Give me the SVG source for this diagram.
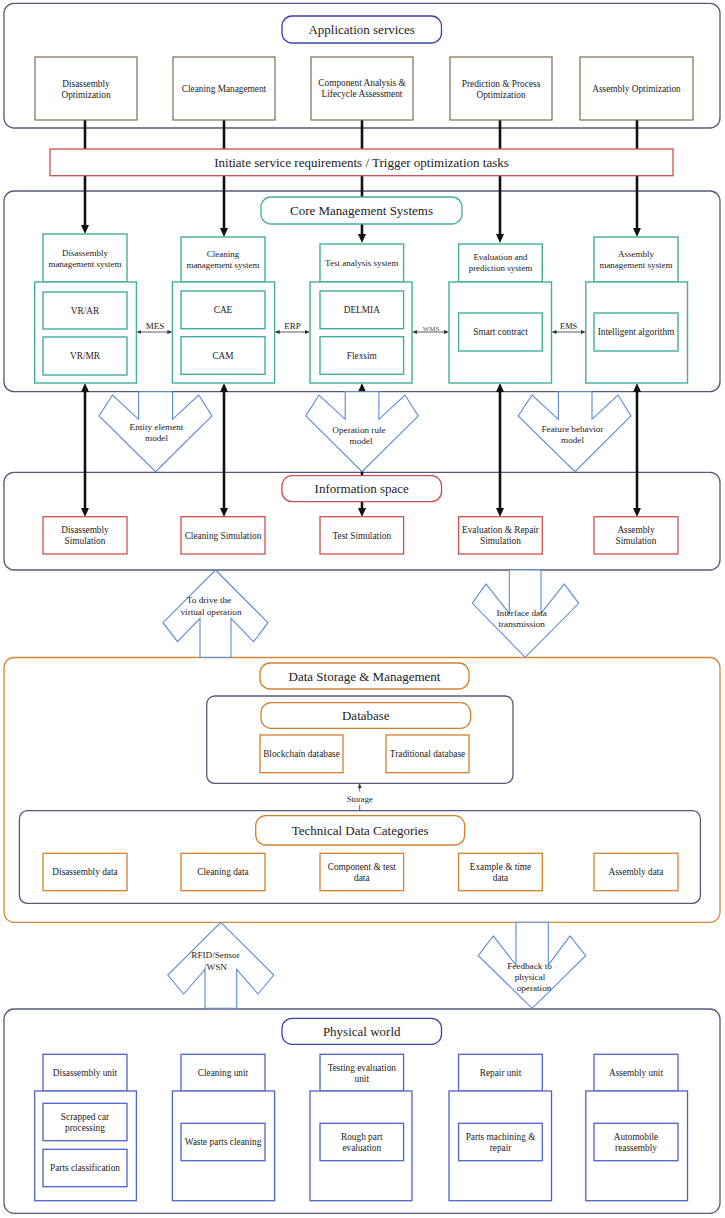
<svg xmlns="http://www.w3.org/2000/svg" width="725" height="1218" viewBox="0 0 725 1218">
<style>
text{font-family:"Liberation Serif","Times New Roman",serif;fill:#222;text-anchor:middle}
.t{font-size:13px}
.b{font-size:9.3px}
.s{font-size:9px}
.cont{fill:#fff;stroke:#555978;stroke-width:1.3}
.pblue{fill:#fff;stroke:#3a44a8;stroke-width:1.3}
.pteal{fill:#fff;stroke:#45ad9c;stroke-width:1.3}
.pred{fill:#fff;stroke:#c9504f;stroke-width:1.3}
.porg{fill:#fff;stroke:#d2802f;stroke-width:1.3}
.svc{fill:#fff;stroke:#7d6b4b;stroke-width:1.2}
.teal{fill:#fff;stroke:#45ad9c;stroke-width:1.4}
.red{fill:#fff;stroke:#c9504f;stroke-width:1.3}
.org{fill:#fff;stroke:#d2802f;stroke-width:1.3}
.blu{fill:#fff;stroke:#4d62c9;stroke-width:1.3}
.chev{fill:#fff;stroke:#5a8ad0;stroke-width:1.1}
.thick{stroke:#111;stroke-width:2.6;fill:none}
.thin{stroke:#333;stroke-width:0.8;fill:none}
</style>
<defs>
<marker id="ah" markerUnits="userSpaceOnUse" markerWidth="9" markerHeight="8" refX="4" refY="4" orient="auto-start-reverse" viewBox="0 0 9 8"><path d="M0,0 L9,4 L0,8 z" fill="#111"/></marker>
<marker id="sa" markerUnits="userSpaceOnUse" markerWidth="5" markerHeight="4" refX="2" refY="2" orient="auto-start-reverse" viewBox="0 0 5 4"><path d="M0,0 L5,2 L0,4 z" fill="#333"/></marker>
</defs>

<!-- containers -->
<g id="containers">
<rect class="cont" x="4" y="3.3" width="716" height="124.7" rx="10"/>
<rect class="cont" x="4" y="191" width="716" height="200.7" rx="10"/>
<rect class="cont" x="4" y="472.3" width="716" height="97.7" rx="10"/>
<rect x="4" y="657.5" width="716" height="264.8" rx="10" fill="#fff" stroke="#d4883a" stroke-width="1.3"/>
<rect class="cont" x="206.7" y="696" width="306.3" height="87.3" rx="8" stroke="#4a4e70"/>
<rect class="cont" x="19.4" y="810.7" width="681" height="92.6" rx="8" stroke="#4a4e70"/>
<rect class="cont" x="4" y="1009" width="716" height="204.3" rx="10"/>
</g>

<!-- connectors -->
<g id="connectors">
<line class="thick" x1="85" y1="120" x2="85" y2="229" marker-end="url(#ah)"/>
<line class="thick" x1="224" y1="120" x2="224" y2="232" marker-end="url(#ah)"/>
<line class="thick" x1="362" y1="120" x2="362" y2="238" marker-end="url(#ah)"/>
<line class="thick" x1="500" y1="120" x2="500" y2="238" marker-end="url(#ah)"/>
<line class="thick" x1="637" y1="120" x2="637" y2="232" marker-end="url(#ah)"/>
<line class="thick" x1="85" y1="388" x2="85" y2="512" marker-start="url(#ah)" marker-end="url(#ah)"/>
<line class="thick" x1="224" y1="388" x2="224" y2="512" marker-start="url(#ah)" marker-end="url(#ah)"/>
<line class="thick" x1="362" y1="388" x2="362" y2="512" marker-start="url(#ah)" marker-end="url(#ah)"/>
<line class="thick" x1="500" y1="388" x2="500" y2="512" marker-start="url(#ah)" marker-end="url(#ah)"/>
<line class="thick" x1="637" y1="388" x2="637" y2="512" marker-start="url(#ah)" marker-end="url(#ah)"/>
<line class="thin" x1="139.4" y1="332" x2="169.4" y2="332" marker-start="url(#sa)" marker-end="url(#sa)"/>
<line class="thin" x1="277.6" y1="332" x2="307" y2="332" marker-start="url(#sa)" marker-end="url(#sa)"/>
<line class="thin" x1="415" y1="332" x2="446" y2="332" marker-start="url(#sa)" marker-end="url(#sa)"/>
<line class="thin" x1="554.5" y1="332" x2="582.8" y2="332" marker-start="url(#sa)" marker-end="url(#sa)"/>
<text class="s" x="155" y="329.3">MES</text>
<text class="s" x="292.6" y="329.3">ERP</text>
<text x="431" y="330.5" style="font-size:7px;fill:#555">WMS</text>
<text class="s" x="568.6" y="329.3" style="font-size:8.3px">EMS</text>
<line class="thin" x1="359.7" y1="791.5" x2="359.7" y2="786.3" marker-end="url(#sa)"/>
<line class="thin" x1="359.7" y1="805" x2="359.7" y2="811"/>
<text x="359.7" y="801.8" style="font-size:8.5px">Storage</text>
</g>

<!-- transfer arrows -->
<g id="chev-entity">
<polygon class="chev" points="138.6,391.7 138.6,419.3 112.5,395 99.1,416 155.6,471.7 212,416 198.7,395 172.6,419.3 172.6,391.7"/>
<text x="156.5" y="429.7" style="font-size:9.2px">Entity element</text>
<text x="156.5" y="440.5" style="font-size:9.2px">model</text>
</g>
<g id="chev-operation">
<polygon class="chev" points="345.2,391.7 345.2,419.3 319,395 305.8,416 362,471.7 418.3,416 405,395 378.9,419.3 378.9,391.7"/>
<text x="359" y="433" style="font-size:9.2px">Operation rule</text>
<text x="361" y="443.8" style="font-size:9.2px">model</text>
</g>
<g id="chev-feature">
<polygon class="chev" points="558.4,391.7 558.4,419.3 532,395 518.2,416 575,471.7 631,416 618,395 592,419.3 592,391.7"/>
<text x="572.5" y="431.7" style="font-size:9.2px">Feature behavior</text>
<text x="572.5" y="442.5" style="font-size:9.2px">model</text>
</g>
<g id="arrow-drive">
<polygon class="chev" points="215.5,570 268,622.7 253.5,641.7 231,618.3 231,657.3 200,657.3 200,618.3 177.5,641.7 163,622.7"/>
<text x="209" y="603.3" style="font-size:9.2px">To drive the</text>
<text x="211" y="614.8" style="font-size:9.2px">virtual operation</text>
</g>
<g id="arrow-interface">
<polygon class="chev" points="509.3,570 509.3,613.3 486,584 472.3,603.3 525.2,657.3 578.7,603.3 564.3,584 541,613.3 541,570"/>
<text x="521.7" y="616" style="font-size:9.2px">Interface data</text>
<text x="521.7" y="626.6" style="font-size:9.2px">transmission</text>
</g>
<g id="arrow-rfid">
<polygon class="chev" points="220.8,922.3 273.8,975 258,994 236.7,969.5 236.7,1008.3 205,1008.3 205,969.5 183.6,994 167.8,975"/>
<text x="215.5" y="958.2" style="font-size:9.2px">RFID/Sensor</text>
<text x="215.5" y="969.8" style="font-size:9.2px">/WSN</text>
</g>
<g id="arrow-feedback">
<polygon class="chev" points="516,922.3 516,965 493.3,936 478.3,955.7 532.2,1008.3 585.7,955.7 570,936 548.3,965 548.3,922.3"/>
<text x="529.5" y="969" style="font-size:9.2px">Feedback to</text>
<text x="530" y="980" style="font-size:9.2px">physical</text>
<text x="534" y="991" style="font-size:9.2px">operation</text>
</g>

<!-- Application services -->
<g id="app-title"><rect class="pblue" x="282" y="16" width="159.5" height="27" rx="10"/><text class="t" x="361.7" y="33.8">Application services</text></g>
<g id="svc-disassembly"><rect class="svc" x="35" y="57" width="102" height="63"/><text class="b" x="86" y="86.5">Disassembly</text><text class="b" x="86" y="97.5">Optimization</text></g>
<g id="svc-cleaning"><rect class="svc" x="173" y="57" width="102" height="63"/><text class="b" x="224" y="92">Cleaning Management</text></g>
<g id="svc-component"><rect class="svc" x="311" y="57" width="102" height="63"/><text class="b" x="362" y="85.5">Component Analysis &amp;</text><text class="b" x="362" y="97">Lifecycle Assessment</text></g>
<g id="svc-prediction"><rect class="svc" x="450" y="57" width="102" height="63"/><text class="b" x="501" y="87">Prediction &amp; Process</text><text class="b" x="501" y="98">Optimization</text></g>
<g id="svc-assembly"><rect class="svc" x="580" y="57" width="113" height="63"/><text class="b" x="636.5" y="92.3">Assembly Optimization</text></g>

<g id="trigger"><rect class="red" x="50" y="149" width="623" height="26.7"/><text class="t" x="361.5" y="166.8">Initiate service requirements / Trigger optimization tasks</text></g>

<!-- Core -->
<g id="core-title"><rect class="pteal" x="261" y="197" width="201" height="27" rx="10"/><text class="t" x="361.5" y="215">Core Management Systems</text></g>
<g id="core-disassembly">
<rect class="teal" x="43" y="234" width="84" height="48"/><text class="s" x="85" y="255.8">Disassembly</text><text class="s" x="85" y="266.5">management system</text>
<rect class="teal" x="34.7" y="282" width="101.7" height="101"/>
<rect class="teal" x="43" y="292" width="84" height="37"/><text class="b" x="85" y="313.5">VR/AR</text>
<rect class="teal" x="43" y="337" width="84" height="38"/><text class="b" x="85" y="359">VR/MR</text>
</g>
<g id="core-cleaning">
<rect class="teal" x="181" y="237" width="84" height="45"/><text class="s" x="223" y="257">Cleaning</text><text class="s" x="223" y="268">management system</text>
<rect class="teal" x="172.4" y="282" width="102.2" height="101"/>
<rect class="teal" x="181" y="291" width="84" height="37.7"/><text class="b" x="223" y="313">CAE</text>
<rect class="teal" x="181" y="336.7" width="84" height="37.6"/><text class="b" x="223" y="358.5">CAM</text>
</g>
<g id="core-test">
<rect class="teal" x="320" y="244" width="83.6" height="38"/><text class="s" x="361.8" y="266.3">Test analysis system</text>
<rect class="teal" x="310" y="282" width="102" height="101"/>
<rect class="teal" x="320" y="291" width="83.6" height="37.7"/><text class="b" x="361.8" y="313">DELMIA</text>
<rect class="teal" x="320" y="336.7" width="83.6" height="37.6"/><text class="b" x="361.8" y="358.5">Flexsim</text>
</g>
<g id="core-evaluation">
<rect class="teal" x="458.6" y="244" width="83.7" height="38"/><text class="s" x="500.5" y="260.3">Evaluation and</text><text class="s" x="500.5" y="271.3">prediction system</text>
<rect class="teal" x="449" y="282" width="102.5" height="101"/>
<rect class="teal" x="458.6" y="313" width="83.7" height="38"/><text class="b" x="500.5" y="335">Smart contract</text>
</g>
<g id="core-assembly">
<rect class="teal" x="594" y="237" width="84" height="45"/><text class="s" x="636" y="257">Assembly</text><text class="s" x="636" y="268">management system</text>
<rect class="teal" x="585.8" y="282" width="101.7" height="101"/>
<rect class="teal" x="594" y="313" width="84" height="38"/><text class="b" x="636" y="335">Intelligent algorithm</text>
</g>

<!-- Information space -->
<g id="info-title"><rect class="pred" x="282" y="475.7" width="159.5" height="26" rx="10"/><text class="t" x="361.7" y="493">Information space</text></g>
<g id="sim-disassembly"><rect class="red" x="43" y="516.7" width="84" height="37.3"/><text class="b" x="85" y="533">Disassembly</text><text class="b" x="85" y="544">Simulation</text></g>
<g id="sim-cleaning"><rect class="red" x="181" y="516.7" width="84" height="37.3"/><text class="b" x="223" y="538.5">Cleaning Simulation</text></g>
<g id="sim-test"><rect class="red" x="320" y="516.7" width="83.6" height="37.3"/><text class="b" x="361.8" y="538.5">Test Simulation</text></g>
<g id="sim-evaluation"><rect class="red" x="458.6" y="516.7" width="83.7" height="37.3"/><text class="b" x="500.5" y="533">Evaluation &amp; Repair</text><text class="b" x="500.5" y="544">Simulation</text></g>
<g id="sim-assembly"><rect class="red" x="594" y="516.7" width="84" height="37.3"/><text class="b" x="636" y="533">Assembly</text><text class="b" x="636" y="544">Simulation</text></g>

<!-- Data storage -->
<g id="data-title"><rect class="porg" x="260" y="663" width="209" height="26" rx="10"/><text class="t" x="364.5" y="680.5">Data Storage &amp; Management</text></g>
<g id="db-title"><rect class="porg" x="261" y="702.7" width="209.6" height="25.6" rx="10"/><text class="t" x="365.8" y="720">Database</text></g>
<g id="db-blockchain"><rect class="org" x="260" y="735" width="83" height="37.7"/><text class="b" x="301.5" y="757">Blockchain database</text></g>
<g id="db-traditional"><rect class="org" x="386" y="735" width="83" height="37.7"/><text class="b" x="427.5" y="757">Traditional database</text></g>
<g id="tech-title"><rect class="porg" x="255.7" y="815.7" width="209" height="29.3" rx="10"/><text class="t" x="360.2" y="834.8">Technical Data Categories</text></g>
<g id="data-disassembly"><rect class="org" x="43" y="853.3" width="84" height="37.4"/><text class="b" x="85" y="875">Disassembly data</text></g>
<g id="data-cleaning"><rect class="org" x="181" y="853.3" width="84" height="37.4"/><text class="b" x="223" y="875">Cleaning data</text></g>
<g id="data-component"><rect class="org" x="320" y="853.3" width="83.6" height="37.4"/><text class="b" x="361.8" y="869.5">Component &amp; test</text><text class="b" x="361.8" y="880.5">data</text></g>
<g id="data-example"><rect class="org" x="458.6" y="853.3" width="83.7" height="37.4"/><text class="b" x="500.5" y="869.5">Example &amp; time</text><text class="b" x="500.5" y="880.5">data</text></g>
<g id="data-assembly"><rect class="org" x="594" y="853.3" width="84" height="37.4"/><text class="b" x="636" y="875">Assembly data</text></g>

<!-- Physical world -->
<g id="phys-title"><rect class="pblue" x="282" y="1018.3" width="159.5" height="26" rx="10"/><text class="t" x="361.7" y="1035.8">Physical world</text></g>
<g id="unit-disassembly">
<rect class="blu" x="43" y="1054.3" width="84" height="36.7"/><text class="b" x="85" y="1076.3">Disassembly unit</text>
<rect class="blu" x="34.7" y="1091" width="101.7" height="109.7"/>
<rect class="blu" x="43" y="1103.3" width="84" height="37.4"/><text class="b" x="85" y="1119.8">Scrapped car</text><text class="b" x="85" y="1130.8">processing</text>
<rect class="blu" x="43" y="1149.3" width="84" height="37.4"/><text class="b" x="85" y="1171.3">Parts classification</text>
</g>
<g id="unit-cleaning">
<rect class="blu" x="181" y="1054.3" width="84" height="36.7"/><text class="b" x="223" y="1076.3">Cleaning unit</text>
<rect class="blu" x="172.4" y="1091" width="102.2" height="109.7"/>
<rect class="blu" x="181" y="1123.3" width="84" height="37.4"/><text class="b" x="223" y="1145.3">Waste parts cleaning</text>
</g>
<g id="unit-testing">
<rect class="blu" x="320" y="1054.3" width="83.6" height="36.7"/><text class="b" x="361.8" y="1071.3">Testing evaluation</text><text class="b" x="361.8" y="1082">unit</text>
<rect class="blu" x="310" y="1091" width="102" height="109.7"/>
<rect class="blu" x="320" y="1123.3" width="83.6" height="37.4"/><text class="b" x="361.8" y="1139.8">Rough part</text><text class="b" x="361.8" y="1150.8">evaluation</text>
</g>
<g id="unit-repair">
<rect class="blu" x="458.6" y="1054.3" width="83.7" height="36.7"/><text class="b" x="500.5" y="1076.3">Repair unit</text>
<rect class="blu" x="449" y="1091" width="102.5" height="109.7"/>
<rect class="blu" x="458.6" y="1123.3" width="83.7" height="37.4"/><text class="b" x="500.5" y="1139.8">Parts machining &amp;</text><text class="b" x="500.5" y="1150.8">repair</text>
</g>
<g id="unit-assembly">
<rect class="blu" x="594" y="1054.3" width="84" height="36.7"/><text class="b" x="636" y="1076.3">Assembly unit</text>
<rect class="blu" x="585.8" y="1091" width="101.7" height="109.7"/>
<rect class="blu" x="594" y="1123.3" width="84" height="37.4"/><text class="b" x="636" y="1139.8">Automobile</text><text class="b" x="636" y="1150.8">reassembly</text>
</g>
</svg>
